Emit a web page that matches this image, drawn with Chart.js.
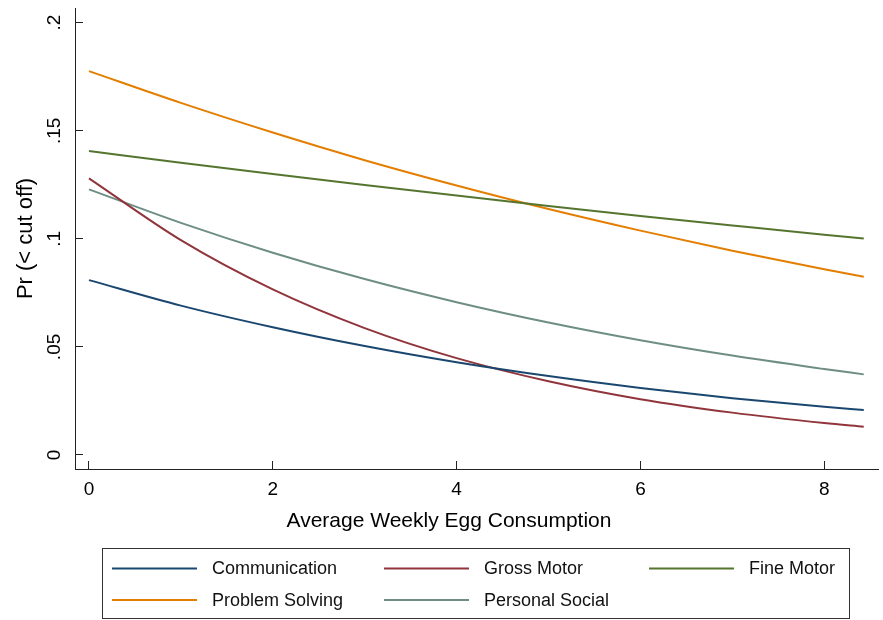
<!DOCTYPE html>
<html>
<head>
<meta charset="utf-8">
<script src="https://cdn.jsdelivr.net/npm/chart.js@4.4.1/dist/chart.umd.min.js"></script>
<style>
html,body{margin:0;padding:0;background:#fff;}
canvas{display:block;}
</style>
</head>
<body>
<canvas id="c" width="883" height="620"></canvas>
<script>
// ---- data ----
const xValues        = [0, 1, 2, 3, 4, 5, 6, 7, 8, 8.43];
const communication  = [0.0809, 0.0691, 0.0591, 0.0504, 0.0429, 0.0365, 0.0310, 0.0263, 0.0223, 0.0208];
const grossMotor     = [0.1280, 0.0994, 0.0766, 0.0587, 0.0448, 0.0341, 0.0258, 0.0196, 0.0148, 0.0131];
const fineMotor      = [0.1406, 0.1352, 0.1300, 0.1249, 0.1200, 0.1152, 0.1106, 0.1062, 0.1019, 0.1002];
const problemSolving = [0.1776, 0.1629, 0.1492, 0.1364, 0.1247, 0.1138, 0.1038, 0.0945, 0.0859, 0.0825];
const personalSocial = [0.1229, 0.1074, 0.0936, 0.0814, 0.0707, 0.0613, 0.0531, 0.0460, 0.0398, 0.0373];
const seriesNames    = ['Communication', 'Gross Motor', 'Fine Motor', 'Problem Solving', 'Personal Social'];
const xTicks      = [0, 2, 4, 6, 8];
const xTickLabels = ['0', '2', '4', '6', '8'];
const yTicks      = [0, 0.05, 0.1, 0.15, 0.2];
const yTickLabels = ['0', '.05', '.1', '.15', '.2'];
const xTitle = 'Average Weekly Egg Consumption';
const yTitle = 'Pr (< cut off)';

const FONT = "'Liberation Sans', Arial, Helvetica, sans-serif";
const toPoints = ys => xValues.map((x, i) => ({ x: x, y: ys[i] }));

const seriesData = [communication, grossMotor, fineMotor, problemSolving, personalSocial];
const seriesColors = ['#1a476f', '#90353b', '#55752f', '#e37e00', '#6e8e84'];

const whiteBg = {
  id: 'whiteBg',
  beforeDraw(chart) {
    const c = chart.ctx;
    c.save();
    c.fillStyle = '#fff';
    c.fillRect(0, 0, chart.width, chart.height);
    c.restore();
  }
};

// x-axis title (placed as in the reference, slightly left of the plot centre) and the boxed legend
const stataLegend = {
  id: 'stataLegend',
  afterDraw(chart) {
    const c = chart.ctx;
    c.save();
    c.fillStyle = '#000';
    c.font = '21px ' + FONT;
    c.textAlign = 'center';
    c.textBaseline = 'middle';
    c.fillText(xTitle, 449, 521);

    c.strokeStyle = '#333';
    c.lineWidth = 1;
    c.strokeRect(102.5, 548.5, 747, 70);
    const cols = [112, 384, 649];
    const rows = [568.5, 600];
    chart.data.datasets.forEach((ds, i) => {
      const x = cols[i % 3];
      const y = rows[Math.floor(i / 3)];
      c.strokeStyle = ds.borderColor;
      c.lineWidth = 2;
      c.beginPath();
      c.moveTo(x, y);
      c.lineTo(x + 85, y);
      c.stroke();
      c.fillStyle = '#111';
      c.font = '18px ' + FONT;
      c.textAlign = 'left';
      c.textBaseline = 'middle';
      c.fillText(ds.label, x + 100, y + 1);
    });
    c.restore();
  }
};

new Chart(document.getElementById('c').getContext('2d'), {
  type: 'line',
  data: {
    datasets: seriesNames.map((name, i) => ({
      label: name,
      data: toPoints(seriesData[i]),
      borderColor: seriesColors[i],
      backgroundColor: seriesColors[i],
      borderWidth: 2,
      pointRadius: 0,
      fill: false,
      cubicInterpolationMode: 'monotone'
    }))
  },
  options: {
    responsive: false,
    animation: false,
    devicePixelRatio: 1,
    layout: { padding: { top: 8, right: 5, bottom: 72, left: 0 } },
    plugins: { legend: { display: false }, tooltip: { enabled: false } },
    scales: {
      x: {
        type: 'linear',
        position: 'bottom',
        min: -0.152,
        max: 8.585,
        afterBuildTicks: s => { s.ticks = xTicks.map(v => ({ value: v })); },
        afterFit: s => { s.height = 79; s.paddingLeft = 0; s.paddingRight = 0; },
        grid: { drawOnChartArea: false, drawTicks: true, tickLength: -8, color: '#222', lineWidth: 1 },
        border: { display: true, color: '#222', width: 1 },
        ticks: {
          autoSkip: false, padding: 17, color: '#000', maxRotation: 0, minRotation: 0,
          font: { family: FONT, size: 19 },
          callback: (v, i) => xTickLabels[i]
        },
        title: { display: false }
      },
      y: {
        type: 'linear',
        position: 'left',
        min: -0.00648,
        max: 0.2068,
        afterBuildTicks: s => { s.ticks = yTicks.map(v => ({ value: v })); },
        afterFit: s => { s.width = 75; s.paddingTop = 0; s.paddingBottom = 0; },
        grid: { drawOnChartArea: false, drawTicks: true, tickLength: -8, color: '#222', lineWidth: 1 },
        border: { display: true, color: '#222', width: 1 },
        ticks: {
          autoSkip: false, padding: 15, color: '#000', minRotation: 90, maxRotation: 90,
          crossAlign: 'center',
          font: { family: FONT, size: 19 },
          callback: (v, i) => yTickLabels[i]
        },
        title: {
          display: true, text: yTitle, color: '#000',
          font: { family: FONT, size: 22 },
          padding: { top: 13, bottom: 0 }
        }
      }
    }
  },
  plugins: [whiteBg, stataLegend]
});
</script>
</body>
</html>
